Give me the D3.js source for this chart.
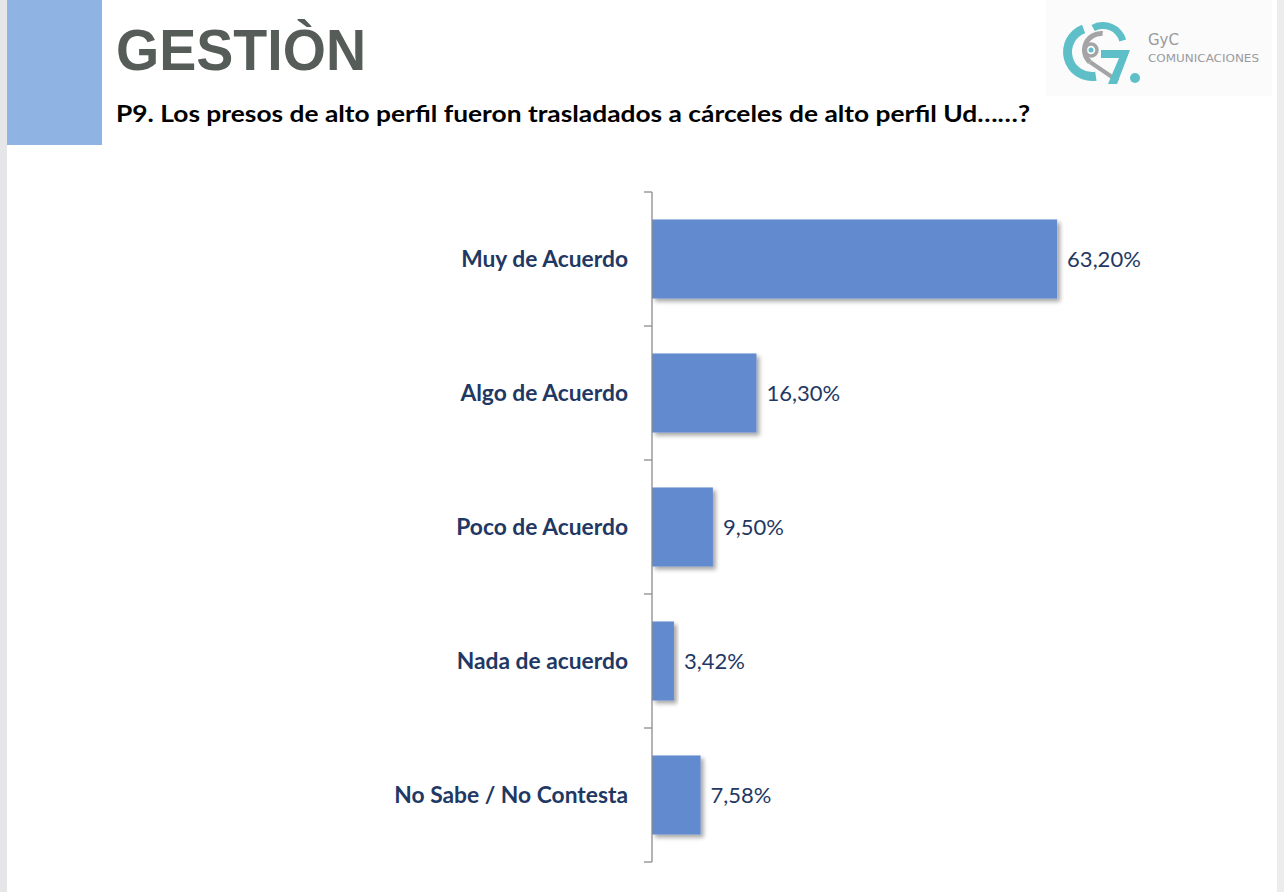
<!DOCTYPE html>
<html lang="es">
<head>
  <meta charset="UTF-8">
  <title>Gestión - P9</title>
  <script src="https://d3js.org/d3.v7.min.js"></script>
  <style>
    body { margin: 0; background: #fff; }
    #chart { display: block; }
  </style>
</head>
<body>
  <svg id="chart" width="1284" height="892"></svg>

  <script>
    const categories = ["Muy de Acuerdo", "Algo de Acuerdo", "Poco de Acuerdo", "Nada de acuerdo", "No Sabe / No Contesta"];
    const values = [63.20, 16.30, 9.50, 3.42, 7.58];
    const valueLabels = ["63,20%", "16,30%", "9,50%", "3,42%", "7,58%"];

    const svg = d3.select("#chart");
    const labelColor = "#1f3864";
    const barColor = "#628bcf";

    // page frame
    svg.append("rect").attr("x", 0).attr("y", 0).attr("width", 1284).attr("height", 892).attr("fill", "#fff");
    svg.append("rect").attr("x", 0).attr("y", 0).attr("width", 7).attr("height", 892).attr("fill", "#e6e6e8");
    svg.append("rect").attr("x", 1277).attr("y", 0).attr("width", 7).attr("height", 892).attr("fill", "#ececee");

    // header
    svg.append("rect").attr("x", 7).attr("y", 0).attr("width", 95).attr("height", 145).attr("fill", "#8fb4e3");
    svg.append("text")
      .attr("x", 116).attr("y", 70)
      .attr("font-family", "Liberation Sans, Arial, sans-serif")
      .attr("font-weight", "bold")
      .attr("font-size", 58)
      .attr("fill", "#565d59")
      .attr("textLength", 250)
      .attr("lengthAdjust", "spacingAndGlyphs")
      .text("GESTIÒN");

    svg.append("text")
      .attr("x", 116).attr("y", 122)
      .attr("font-family", "Lato, sans-serif")
      .attr("font-weight", "bold")
      .attr("font-size", 23)
      .attr("fill", "#000")
      .attr("textLength", 914)
      .attr("lengthAdjust", "spacingAndGlyphs")
      .text("P9. Los presos de alto perfil fueron trasladados a cárceles de alto perfil Ud……?");

    // logo
    const logo = svg.append("g");
    logo.append("rect").attr("x", 1046).attr("width", 226).attr("height", 96).attr("fill", "#fbfbfb");
    const arc = d3.arc();
    const teal = "#5fbfc9", grey = "#a4a4a6";
    logo.append("path").attr("transform", "translate(1092,52)")
      .attr("d", arc({ innerRadius: 20, outerRadius: 29, startAngle: -0.35, endAngle: -3.3 }))
      .attr("fill", teal);
    logo.append("path").attr("transform", "translate(1101,50)")
      .attr("d", arc({ innerRadius: 14, outerRadius: 19, startAngle: 0.1, endAngle: -2.4 }))
      .attr("fill", grey);
    logo.append("path").attr("d", "M1090 62 L1118 81").attr("stroke", grey).attr("stroke-width", 4).attr("fill", "none");
    logo.append("circle").attr("cx", 1091).attr("cy", 50).attr("r", 6).attr("fill", "none").attr("stroke", grey).attr("stroke-width", 3.5);
    logo.append("circle").attr("cx", 1091).attr("cy", 50).attr("r", 2.5).attr("fill", teal);
    logo.append("path").attr("transform", "translate(1103,46)")
      .attr("d", arc({ innerRadius: 17, outerRadius: 24, startAngle: -0.5, endAngle: 1.3 }))
      .attr("fill", teal);
    logo.append("path").attr("d", "M1101 50 L1130 50 L1117 84 L1108 84 L1119 58 L1101 58 Z").attr("fill", teal);
    logo.append("circle").attr("cx", 1135).attr("cy", 78).attr("r", 5).attr("fill", teal);
    logo.append("text").attr("x", 1148).attr("y", 45)
      .attr("font-family", "DejaVu Sans, sans-serif").attr("font-size", 15).attr("fill", "#9a9a9c").text("GyC");
    logo.append("text").attr("x", 1148).attr("y", 62)
      .attr("font-family", "DejaVu Sans, sans-serif").attr("font-size", 11).attr("fill", "#9a9a9c")
      .attr("textLength", 111).attr("lengthAdjust", "spacingAndGlyphs").text("COMUNICACIONES");

    // drop shadow for bars
    const defs = svg.append("defs");
    defs.append("filter").attr("id", "shadow").attr("x", "-10%").attr("y", "-10%").attr("width", "130%").attr("height", "130%")
      .append("feDropShadow")
      .attr("dx", 3).attr("dy", 3).attr("stdDeviation", 2)
      .attr("flood-color", "#000").attr("flood-opacity", 0.35);

    // scales
    const x = d3.scaleLinear().domain([0, 70]).range([652, 1100.7]);
    const y = d3.scaleBand().domain(categories).range([192, 862]).paddingInner(0.41).paddingOuter(0.205);

    // bars
    svg.append("g").selectAll("rect")
      .data(categories)
      .join("rect")
      .attr("x", x(0))
      .attr("y", d => y(d))
      .attr("width", (d, i) => x(values[i]) - x(0))
      .attr("height", y.bandwidth())
      .attr("fill", barColor)
      .attr("filter", "url(#shadow)");

    // axis with ticks between categories
    const boundaries = d3.range(categories.length + 1).map(i => 192 + i * (670 / categories.length));
    const axisG = svg.append("g");
    axisG.append("line")
      .attr("x1", x(0)).attr("x2", x(0))
      .attr("y1", boundaries[0]).attr("y2", boundaries[boundaries.length - 1])
      .attr("stroke", "#8c8c8c").attr("stroke-width", 1.3);
    axisG.selectAll("line.tick")
      .data(boundaries)
      .join("line")
      .attr("class", "tick")
      .attr("x1", x(0) - 8).attr("x2", x(0))
      .attr("y1", d => d).attr("y2", d => d)
      .attr("stroke", "#8c8c8c").attr("stroke-width", 1.3);

    // category labels
    svg.append("g").selectAll("text")
      .data(categories)
      .join("text")
      .attr("x", 628)
      .attr("y", d => y(d) + y.bandwidth() / 2)
      .attr("dy", "0.35em")
      .attr("text-anchor", "end")
      .attr("font-family", "Lato, sans-serif")
      .attr("font-weight", "bold")
      .attr("font-size", 22.8)
      .attr("fill", labelColor)
      .text(d => d);

    // value labels
    svg.append("g").selectAll("text")
      .data(categories)
      .join("text")
      .attr("x", (d, i) => x(values[i]) + 10)
      .attr("y", d => y(d) + y.bandwidth() / 2)
      .attr("dy", "0.35em")
      .attr("font-family", "Lato, sans-serif")
      .attr("font-size", 22)
      .attr("fill", labelColor)
      .text((d, i) => valueLabels[i]);
  </script>
</body>
</html>
